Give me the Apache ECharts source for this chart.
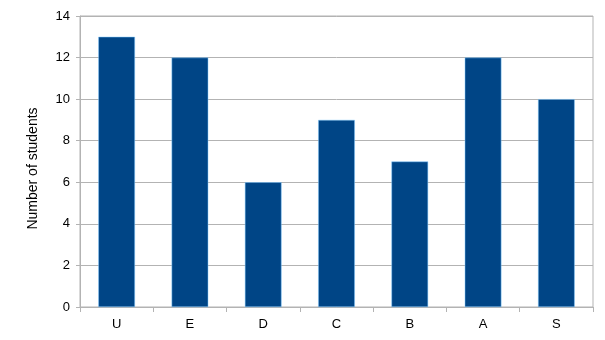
<!DOCTYPE html>
<html>
<head>
<meta charset="utf-8">
<script src="https://cdn.jsdelivr.net/npm/echarts@6/dist/echarts.min.js"></script>
<style>html,body{margin:0;padding:0;background:#fff;}#c{width:605px;height:340px;}</style>
</head>
<body>
<div id="c"></div>
<script>
const categories = ['U', 'E', 'D', 'C', 'B', 'A', 'S'];
const students = [13, 12, 6, 9, 7, 12, 10];
const yTicks = { min: 0, max: 14, interval: 2 };

const chart = echarts.init(document.getElementById('c'), null, { renderer: 'canvas' });
chart.setOption({
  animation: false,
  grid: { left: 80, right: 12, top: 16, bottom: 33, show: true, borderColor: '#b3b3b3', borderWidth: 1, backgroundColor: 'transparent' },
  xAxis: {
    type: 'category',
    data: categories,
    axisLine: { lineStyle: { color: '#b3b3b3', width: 1 } },
    axisTick: { show: true, length: 5, lineStyle: { color: '#b3b3b3' } },
    axisLabel: { color: '#000', fontFamily: 'Liberation Sans', fontSize: 13, margin: 11 }
  },
  yAxis: {
    type: 'value',
    min: yTicks.min, max: yTicks.max, interval: yTicks.interval,
    name: 'Number of students',
    nameLocation: 'middle',
    nameGap: 40,
    nameTextStyle: { color: '#000', fontFamily: 'Liberation Sans', fontSize: 14, padding: [0, 14, 0, 0] },
    axisLine: { show: true, lineStyle: { color: '#b3b3b3', width: 1 } },
    axisTick: { show: true, length: 4, lineStyle: { color: '#b3b3b3' } },
    axisLabel: { color: '#000', fontFamily: 'Liberation Sans', fontSize: 13, margin: 10 },
    splitLine: { show: true, lineStyle: { color: '#b3b3b3', width: 1 } }
  },
  series: [{
    type: 'bar',
    data: students,
    barWidth: '50%',
    itemStyle: { color: '#004586', borderColor: '#83caff', borderWidth: 0.5 }
  }]
});
</script>
</body>
</html>
